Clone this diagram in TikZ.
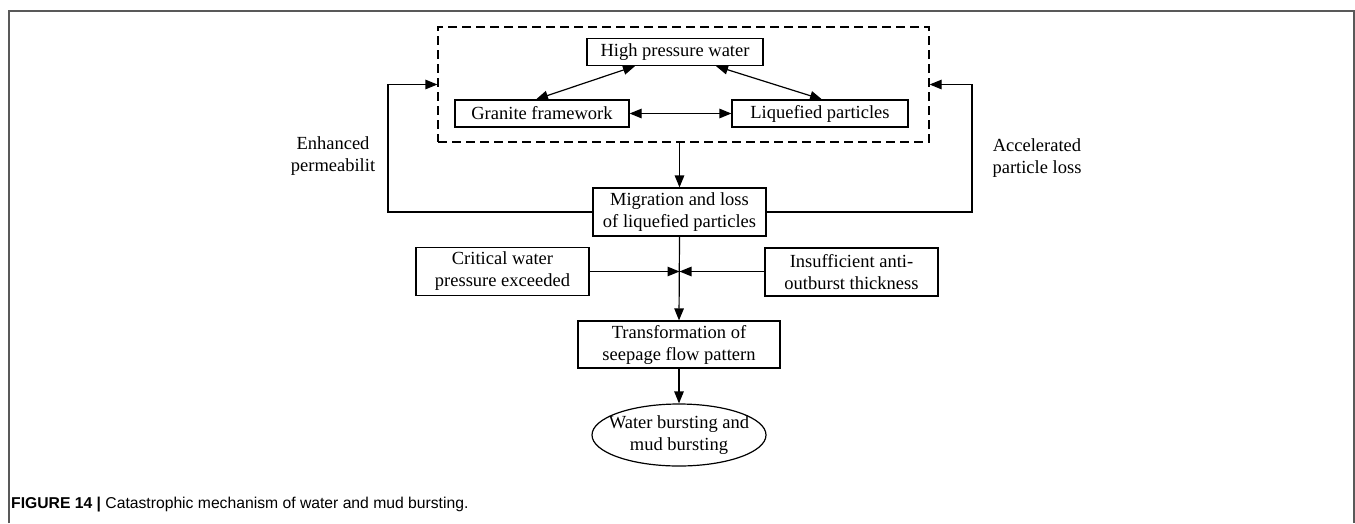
\documentclass[tikz,border=0pt]{standalone}
\usepackage{fontspec}
\setmainfont{Liberation Serif}
\newfontfamily\capfont{Liberation Sans}
\usetikzlibrary{arrows.meta,shapes.geometric}
\begin{document}
\begin{tikzpicture}[x=1pt,y=-1pt,
 txt/.style={font=\fontsize{18.5}{22}\selectfont},
 box/.style={txt,draw=black,line width=1.2pt,rectangle,inner sep=0pt,align=center},
 conn/.style={draw=black,line width=1.2pt},
 arr/.style={conn,-{Triangle[length=12pt,width=9.5pt]}},
 darr/.style={conn,{Triangle[length=12pt,width=9.5pt]}-{Triangle[length=12pt,width=9.5pt]}},
 lbl/.style={txt,align=center,inner sep=0pt},
 dashbox/.style={draw=black,line width=1.2pt,dash pattern=on 9pt off 5pt,rectangle,inner sep=0pt},
 oval/.style={draw=black,line width=1.2pt,ellipse,inner sep=0pt}]
\useasboundingbox (0,0) rectangle (1355,523);
% page frame
\draw[line width=1.2pt,draw=black!65] (9,523) -- (9,11) -- (1354,11) -- (1354,523);

% dashed group
\node[dashbox,minimum width=491pt,minimum height=115pt] (grp) at (683.5,84.5) {};
\node[box,minimum width=176pt,minimum height=27pt] (hpw) at (675,52) {High pressure water};
\node[box,minimum width=174pt,minimum height=27pt] (gran) at (542,113.5) {Granite framework};
\node[box,minimum width=176pt,minimum height=27pt] (liq) at (820,113.5) {Liquefied particles};

\node[box,minimum width=173pt,minimum height=48pt] (mig) at (679.5,212) {Migration and loss\\of liquefied particles};
\node[box,minimum width=173pt,minimum height=48pt] (crit) at (502.5,271.5) {Critical water\\pressure exceeded};
\node[box,minimum width=173pt,minimum height=48pt] (ins) at (851.5,272) {Insufficient anti-\\outburst thickness};
\node[box,minimum width=202pt,minimum height=47pt] (trans) at (679,344.5) {Transformation of\\seepage flow pattern};
\node[oval,minimum width=174pt,minimum height=62pt] (burst) at (679,435) {};
\node[lbl] (bursttxt) at (burst.center) {Water bursting and\\mud bursting};

\node[lbl] (enh) at (333,156) {Enhanced\\permeabilit};
\node[lbl] (acc) at (1037,158) {Accelerated\\particle loss};

\coordinate (lc) at (388,0);
\coordinate (rc) at (972,0);
\coordinate (j) at (679.5,271.5);

% connectors inside group
\draw[darr] ([xshift=-40pt]hpw.south) -- ([xshift=-6pt]gran.north);
\draw[darr] ([xshift=41pt]hpw.south) -- ([xshift=2pt]liq.north);
\draw[darr] (gran.east) -- (liq.west);

% group to migration
\draw[arr] (grp.south -| mig.north) -- (mig.north);
% feedback loops
\draw[arr] (mig.west) -- (mig.west -| lc) |- (grp.west);
\draw[arr] (mig.east) -- (mig.east -| rc) |- (grp.east);
% main chain
\draw[arr] (mig.south) -- (trans.north);
\draw[arr] (crit.east |- j) -- (j);
\draw[arr] (ins.west |- j) -- (j);
\draw[arr] (trans.south) -- (burst.north);

% caption
\node[anchor=west,inner sep=0pt,font=\capfont\fontsize{15.7}{18}\selectfont] (cap) at (11,505)
 {{\bfseries FIGURE 14 |} Catastrophic mechanism of water and mud bursting.};
\end{tikzpicture}
\end{document}
